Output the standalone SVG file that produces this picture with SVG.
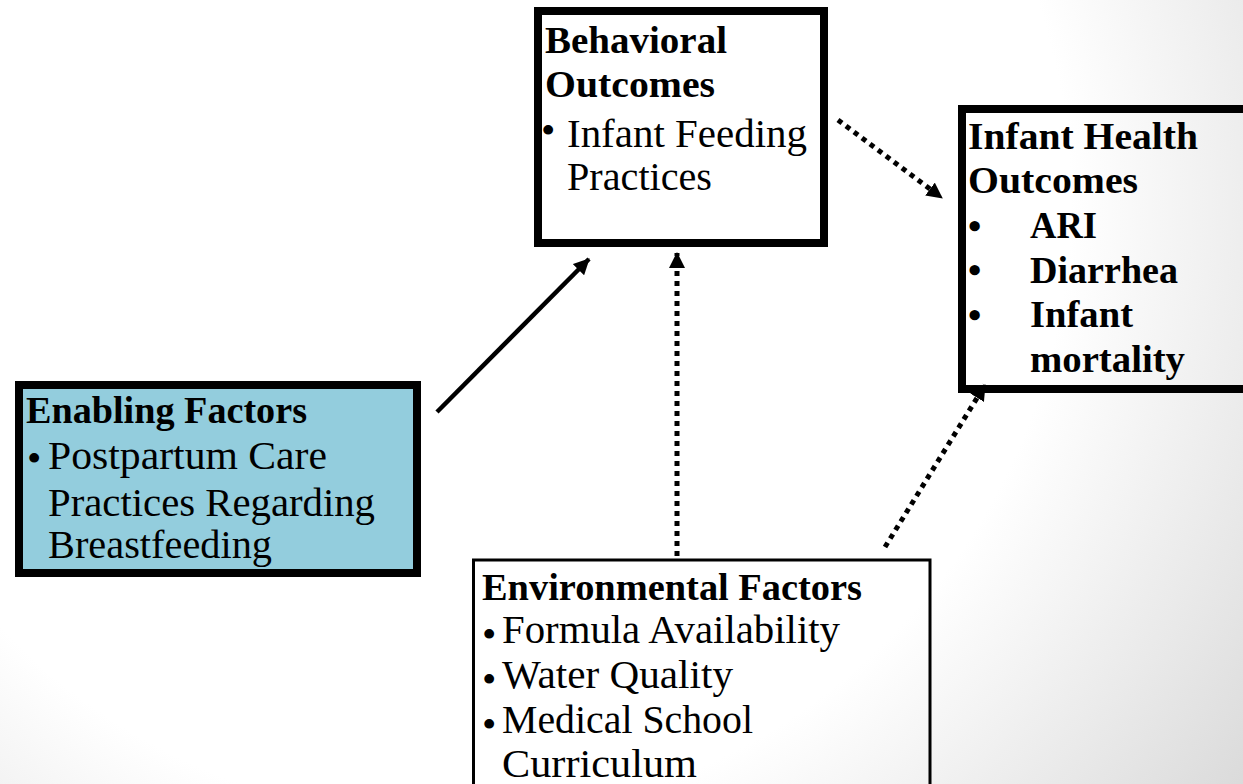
<svg xmlns="http://www.w3.org/2000/svg" width="1243" height="784" viewBox="0 0 1243 784">
<style>
.b{font-family:"Liberation Serif","Times New Roman",serif;font-weight:bold;font-size:38px;fill:#000}
.r{font-family:"Liberation Serif","Times New Roman",serif;font-size:41px;fill:#000}
.box{stroke:#000;stroke-width:8}
.solid{fill:none;stroke:#000;stroke-width:4.5}
.dot{fill:none;stroke:#000;stroke-width:5;stroke-dasharray:5 5}
</style>
<defs>
<radialGradient id="bg" gradientUnits="userSpaceOnUse" cx="450" cy="200" r="1000">
<stop offset="0.62" stop-color="#ffffff"/>
<stop offset="1" stop-color="#d9d9d9"/>
</radialGradient>
<marker id="ah" viewBox="0 0 16 16" refX="15" refY="8" markerWidth="16" markerHeight="16" orient="auto" markerUnits="userSpaceOnUse">
<path d="M0,0 L16,8 L0,16 z" fill="#000"/>
</marker>
</defs>
<rect x="0" y="0" width="1243" height="784" fill="url(#bg)"/>

<g id="connectors">
<line class="solid" x1="437" y1="412" x2="589" y2="259" marker-end="url(#ah)"/>
<line class="dot" x1="677" y1="556" x2="677" y2="253" marker-end="url(#ah)"/>
<line class="dot" x1="838" y1="120" x2="942" y2="198" marker-end="url(#ah)"/>
<line class="dot" x1="885" y1="547" x2="985" y2="385" marker-end="url(#ah)"/>
</g>

<g id="behavioral">
<rect class="box" x="538" y="11" width="286" height="232" fill="#ffffff"/>
<text class="b" x="545" y="53" textLength="182" lengthAdjust="spacingAndGlyphs">Behavioral</text>
<text class="b" x="545" y="97" textLength="170" lengthAdjust="spacingAndGlyphs">Outcomes</text>
<text class="r" x="541" y="144">•</text>
<text class="r" x="567" y="147" textLength="240" lengthAdjust="spacingAndGlyphs">Infant Feeding</text>
<text class="r" x="567" y="190" textLength="145" lengthAdjust="spacingAndGlyphs">Practices</text>
</g>

<g id="infant-health">
<rect class="box" x="962" y="109" width="300" height="280" fill="none"/>
<text class="b" x="968" y="149" textLength="230" lengthAdjust="spacingAndGlyphs">Infant Health</text>
<text class="b" x="968" y="193" textLength="170" lengthAdjust="spacingAndGlyphs">Outcomes</text>
<text class="b" x="968" y="239">•</text>
<text class="b" x="1030" y="238" textLength="67" lengthAdjust="spacingAndGlyphs">ARI</text>
<text class="b" x="968" y="283">•</text>
<text class="b" x="1030" y="283" textLength="148" lengthAdjust="spacingAndGlyphs">Diarrhea</text>
<text class="b" x="968" y="328">•</text>
<text class="b" x="1030" y="327" textLength="103" lengthAdjust="spacingAndGlyphs">Infant</text>
<text class="b" x="1030" y="372" textLength="155" lengthAdjust="spacingAndGlyphs">mortality</text>
</g>

<g id="enabling">
<rect class="box" x="19" y="385" width="398" height="188" fill="#93cddd"/>
<text class="b" x="26" y="423" textLength="281" lengthAdjust="spacingAndGlyphs">Enabling Factors</text>
<text class="r" x="27" y="472">•</text>
<text class="r" x="48" y="469" textLength="279" lengthAdjust="spacingAndGlyphs">Postpartum Care</text>
<text class="r" x="48" y="516" textLength="327" lengthAdjust="spacingAndGlyphs">Practices Regarding</text>
<text class="r" x="48" y="558" textLength="224" lengthAdjust="spacingAndGlyphs">Breastfeeding</text>
</g>

<g id="environmental">
<rect x="473.5" y="560" width="456.5" height="260" fill="none" stroke="#000" stroke-width="3"/>
<text class="b" x="482" y="600" textLength="380" lengthAdjust="spacingAndGlyphs">Environmental Factors</text>
<text class="r" x="482" y="648">•</text>
<text class="r" x="502" y="643" textLength="338" lengthAdjust="spacingAndGlyphs">Formula Availability</text>
<text class="r" x="482" y="693">•</text>
<text class="r" x="502" y="688" textLength="231" lengthAdjust="spacingAndGlyphs">Water Quality</text>
<text class="r" x="482" y="738">•</text>
<text class="r" x="502" y="733" textLength="251" lengthAdjust="spacingAndGlyphs">Medical School</text>
<text class="r" x="502" y="777" textLength="195" lengthAdjust="spacingAndGlyphs">Curriculum</text>
</g>
</svg>
